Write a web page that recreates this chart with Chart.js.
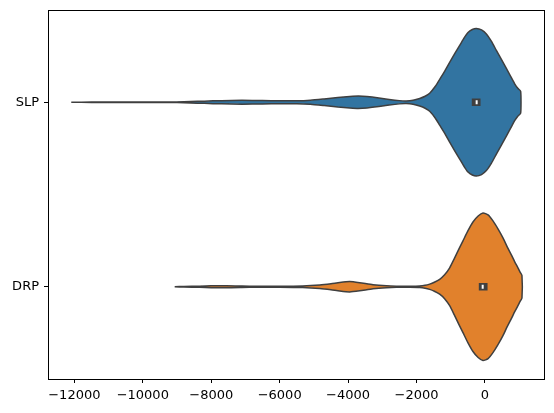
<!DOCTYPE html>
<html>
<head>
<meta charset="utf-8">
<script src="https://cdn.jsdelivr.net/npm/chart.js@4.4.0/dist/chart.umd.min.js"></script>
<style>
  html, body { margin: 0; padding: 0; background: #ffffff; }
  #wrap { width: 554px; height: 413px; }
</style>
</head>
<body>
<div id="wrap"><canvas id="c" width="554" height="413"></canvas></div>
<script>
// ---- data ----
const categories = ["SLP", "DRP"];
const xTicks = [-12000, -10000, -8000, -6000, -4000, -2000, 0];

// SLP kernel density outline (value grid, relative density 0..1)
const slpGrid = [-12090,-11500,-10500,-9500,-9000,-8600,-8200,-7700,-7100,-6500,-6000,-5500,-5100,-4700,-4300,-3950,-3700,-3450,-3100,-2800,-2500,-2300,-2100,-1908,-1750,-1616,-1450,-1324,-1180,-1032,-880,-739,-600,-496,-370,-253,-100,41,190,333,480,625,750,868,960,1043];
const slpDensity = [0,0.003,0.003,0.004,0.005,0.009,0.015,0.022,0.026,0.024,0.020,0.019,0.027,0.045,0.065,0.078,0.084,0.078,0.059,0.038,0.022,0.018,0.027,0.051,0.081,0.122,0.216,0.311,0.419,0.541,0.662,0.770,0.878,0.946,0.986,1.0,0.980,0.926,0.824,0.703,0.581,0.459,0.351,0.250,0.189,0.149];

// DRP kernel density outline
const drpGrid = [-9068,-8800,-8337,-8000,-7557,-7100,-6670,-6000,-5330,-4830,-4500,-4246,-3954,-3662,-3273,-2881,-2589,-2200,-1908,-1750,-1616,-1480,-1324,-1180,-1032,-900,-760,-643,-500,-351,-200,-58,90,234,380,526,650,771,870,964,1030,1081];
const drpDensity = [0,0.004,0.007,0.012,0.015,0.011,0.006,0.006,0.011,0.024,0.041,0.058,0.070,0.055,0.027,0.012,0.008,0.008,0.011,0.020,0.036,0.061,0.101,0.162,0.257,0.378,0.514,0.622,0.757,0.878,0.959,1.0,0.973,0.892,0.784,0.662,0.541,0.432,0.338,0.257,0.196,0.153];

// quartiles [Q1, median, Q3]
const slpQuartiles = [-385, -243, -130];
const drpQuartiles = [-180, -67, 75];

// ---- styling ----
const FONT = "'DejaVu Sans', sans-serif";
const EDGE = "#3f3f3f";
const COLORS = ["#3274a1", "#e1812c"];
const HALF = 0.4;

function violin(grid, dens, pos) {
  const upper = grid.map((g, i) => ({x: g, y: pos - dens[i] * HALF}));
  const lower = grid.map((g, i) => ({x: g, y: pos + dens[i] * HALF})).reverse();
  const pts = upper.concat(lower);
  pts.push(upper[0]);
  return pts;
}

const series = [
  {grid: slpGrid, dens: slpDensity, q: slpQuartiles},
  {grid: drpGrid, dens: drpDensity, q: drpQuartiles}
];

const datasets = [];
series.forEach((s, i) => {
  datasets.push({
    data: violin(s.grid, s.dens, i),
    showLine: true,
    fill: 'shape',
    backgroundColor: COLORS[i],
    borderColor: EDGE,
    borderWidth: 1.5,
    pointRadius: 0,
    tension: 0.2,
    order: 3
  });
  datasets.push({
    data: [{x: s.q[0], y: i}, {x: s.q[2], y: i}],
    showLine: true,
    fill: false,
    borderColor: EDGE,
    borderWidth: 7.5,
    borderCapStyle: 'butt',
    pointRadius: 0,
    order: 2
  });
  datasets.push({
    data: [{x: s.q[1], y: i}],
    showLine: false,
    pointStyle: 'line',
    pointRotation: 90,
    pointRadius: 2,
    pointBorderWidth: 2,
    pointBorderColor: '#ffffff',
    pointBackgroundColor: '#ffffff',
    order: 1
  });
});

const frame = {
  id: 'frame',
  afterDraw(chart) {
    const a = chart.chartArea, ctx = chart.ctx;
    ctx.save();
    ctx.strokeStyle = '#000';
    ctx.lineWidth = 1;
    ctx.strokeRect(Math.round(a.left) + 0.5, Math.round(a.top) + 0.5,
                   Math.round(a.right - a.left), Math.round(a.bottom - a.top));
    ctx.restore();
  }
};

new Chart(document.getElementById('c'), {
  type: 'scatter',
  data: {datasets},
  plugins: [frame],
  options: {
    responsive: false,
    devicePixelRatio: 1,
    animation: false,
    layout: {padding: {top: 10, right: 10, left: 0, bottom: 0}},
    plugins: {legend: {display: false}, tooltip: {enabled: false}},
    scales: {
      x: {
        type: 'linear',
        min: -12770,
        max: 1725,
        afterBuildTicks: (sc) => { sc.ticks = xTicks.map(v => ({value: v})); },
        afterFit: (sc) => { sc.height = 34; sc.paddingLeft = 0; sc.paddingRight = 0; },
        border: {display: false},
        grid: {drawOnChartArea: false, drawTicks: true, tickLength: 4, tickColor: '#000', tickWidth: 1},
        ticks: {
          color: '#000',
          padding: 5,
          maxRotation: 0,
          font: {family: FONT, size: 13},
          callback: (v) => String(v).replace('-', '\u2212')
        }
      },
      y: {
        type: 'linear',
        min: -0.5,
        max: 1.5,
        reverse: true,
        afterBuildTicks: (sc) => { sc.ticks = categories.map((c, i) => ({value: i})); },
        afterFit: (sc) => { sc.width = 48; sc.paddingTop = 0; sc.paddingBottom = 0; },
        border: {display: false},
        grid: {drawOnChartArea: false, drawTicks: true, tickLength: 4, tickColor: '#000', tickWidth: 1},
        ticks: {
          color: '#000',
          padding: 5,
          font: {family: FONT, size: 13},
          callback: (v) => categories[v]
        }
      }
    }
  }
});
</script>
</body>
</html>
